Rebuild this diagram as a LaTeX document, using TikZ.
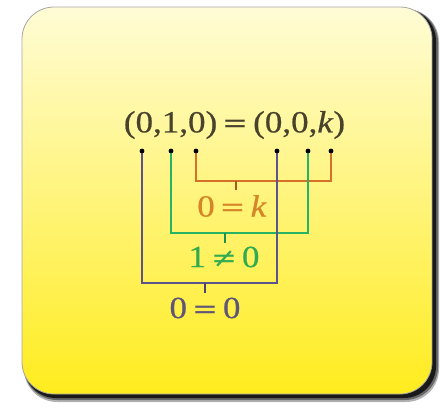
\documentclass[tikz,border=0pt]{standalone}
\usepackage{fontspec}
\newfontfamily\tf{Liberation Serif}[FakeBold=0.6]
\newfontfamily\symf{DejaVu Serif}
\definecolor{txtdark}{RGB}{72,66,45}
\definecolor{orangeL}{RGB}{212,112,40}
\definecolor{orangeT}{RGB}{214,132,40}
\definecolor{greenL}{RGB}{40,178,100}
\definecolor{greenT}{RGB}{50,170,80}
\definecolor{purpleL}{RGB}{92,82,140}
\definecolor{purpleT}{RGB}{95,85,120}
\definecolor{bgtop}{RGB}{255,252,214}
\definecolor{bgmid}{RGB}{255,244,110}
\definecolor{bgbot}{RGB}{255,236,30}
\newcommand{\sq}[1]{\scalebox{1}[0.88]{#1}}
\newcommand{\eqgap}{\hspace{5pt}}
\newcommand{\myeq}{{\symf\fontsize{31}{36}\selectfont =}}
\newcommand{\myneq}{{\symf\fontsize{31}{36}\selectfont ≠}}
\tikzset{
  dot/.style={circle,fill=black,inner sep=0pt,minimum size=4.6pt},
  bigtext/.style={font=\fontsize{35}{40}\selectfont\tf,inner sep=0pt},
  bracket/.style={line width=2.2pt},
}
\begin{document}
\begin{tikzpicture}[x=1pt,y=-1pt]
\useasboundingbox (0,0) rectangle (447,407);
% shadow
\fill[black!30,rounded corners=33pt] (24,9) rectangle (439,402);
\fill[black!60,rounded corners=33pt] (24,9) rectangle (438,400);
\fill[black!90,rounded corners=32pt] (24,9) rectangle (436,398);
% box
\shade[top color=bgtop,middle color=bgmid,bottom color=bgbot,rounded corners=32pt,draw=gray!70,line width=0.8pt] (22,7) rectangle (432,394);
% top text
\node[bigtext,text=txtdark] (eq) at (234.5,125) {\sq{(0,1,0)\eqgap\myeq\eqgap(0,0,\textit{k})}};
% dots
\node[dot] (p1) at (142,151) {};
\node[dot] (p2) at (171,151) {};
\node[dot] (p3) at (196,151) {};
\node[dot] (p4) at (277,151) {};
\node[dot] (p5) at (308,151) {};
\node[dot] (p6) at (331,151) {};
% bracket joints
\coordinate (ob) at (236,181);
\coordinate (obt) at (236,190);
\coordinate (gb) at (225,233);
\coordinate (gbt) at (225,243);
\coordinate (vb) at (205,283);
\coordinate (vbt) at (205,293);
% brackets
\draw[bracket,orangeL] (p3.center) |- (ob) -| (p6.center);
\draw[bracket,orangeL!80!black] (ob) -- (obt);
\draw[bracket,greenL] (p2.center) |- (gb) -| (p5.center);
\draw[bracket,greenL!80!black] (gb) -- (gbt);
\draw[bracket,purpleL] (p1.center) |- (vb) -| (p4.center);
\draw[bracket,purpleL!80!black] (vb) -- (vbt);
% redraw dots on top
\foreach \p in {p1,p2,p3,p4,p5,p6} \fill[black] (\p) circle (2.3pt);
% labels
\node[bigtext,text=orangeT] (lk) at (232,206) {\sq{0\eqgap\myeq\eqgap\textit{k}}};
\node[bigtext,text=greenT] (lg) at (224,257) {\sq{1\eqgap\myneq\eqgap0}};
\node[bigtext,text=purpleT] (lp) at (205,308) {\sq{0\eqgap\myeq\eqgap0}};
\end{tikzpicture}
\end{document}
